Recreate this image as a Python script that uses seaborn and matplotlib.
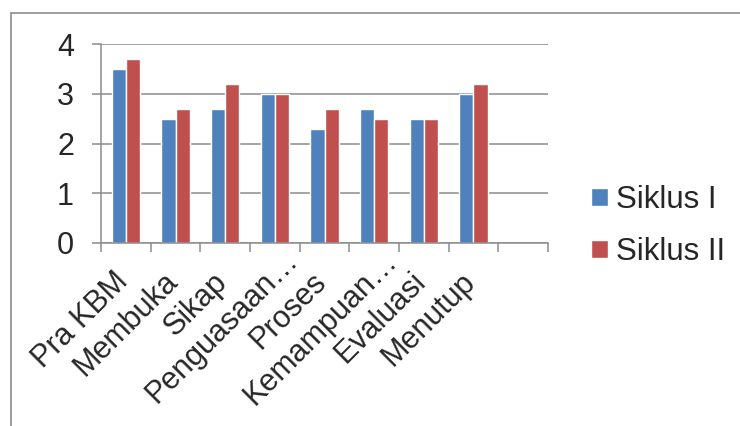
import pandas as pd
import numpy as np
import seaborn as sns
import matplotlib.pyplot as plt
from matplotlib.patches import Rectangle
import matplotlib.transforms as mtransforms

sns.set_style("white")
plt.rcParams['font.family'] = ['Liberation Sans', 'DejaVu Sans']

# Data
categories = ['Pra KBM', 'Membuka', 'Sikap', 'Penguasaan…', 'Proses',
              'Kemampuan…', 'Evaluasi', 'Menutup']
siklus_1 = [3.5, 2.5, 2.7, 3.0, 2.3, 2.7, 2.5, 3.0]
siklus_2 = [3.7, 2.7, 3.2, 3.0, 2.7, 2.5, 2.5, 3.2]
series_names = ['Siklus I', 'Siklus II']
y_ticks = [0, 1, 2, 3, 4]

df = pd.DataFrame({
    'kategori': categories * 2,
    'nilai': siklus_1 + siklus_2,
    'siklus': [series_names[0]] * len(categories) + [series_names[1]] * len(categories),
})

fig = plt.figure(figsize=(7.4, 4.26), dpi=100)
ax = fig.add_axes([101 / 740, 1 - 243 / 426, 447 / 740, 199 / 426])

palette = {'Siklus I': '#4F81BD', 'Siklus II': '#C0504D'}
sns.barplot(data=df, x='kategori', y='nilai', hue='siklus', order=categories,
            palette=palette, width=0.572, gap=0, saturation=1, ax=ax)

# Excel style: one empty category slot on the right
ax.set_xlim(-0.5, len(categories) + 0.5)
ax.set_ylim(0, 4)
ax.set_yticks(y_ticks)
ax.set_xlabel('')
ax.set_ylabel('')

grid_col = '#8C8C8C'
ax.yaxis.grid(True, color=grid_col, linewidth=1.1)
ax.set_axisbelow(True)
for side in ['top', 'right']:
    ax.spines[side].set_visible(False)
for side in ['left', 'bottom']:
    ax.spines[side].set_color(grid_col)
    ax.spines[side].set_linewidth(1.1)

ax.tick_params(axis='y', which='major', length=6.5, width=1.1, color=grid_col,
               labelsize=22, pad=13, left=True)
ax.set_xticks(np.arange(len(categories)))
ax.set_xticklabels(categories, rotation=45, ha='right', rotation_mode='anchor')
ax.tick_params(axis='x', which='major', length=0, labelsize=22, pad=17)
ax.set_xticks(np.arange(-0.5, len(categories) + 1), minor=True)
ax.tick_params(axis='x', which='minor', length=6.5, width=1.1, color=grid_col, bottom=True)

# Excel pushes the truncated labels further along their direction
for lab in ax.get_xticklabels():
    dx, dy = -13, 0
    if lab.get_text().endswith('…'):
        dx, dy = dx + 21, dy + 21
    shift = mtransforms.ScaledTranslation(dx / 100, dy / 100, fig.dpi_scale_trans)
    lab.set_transform(lab.get_transform() + shift)

ax.legend(loc='center left', bbox_to_anchor=(591 / 740, 1 - 226 / 426),
          bbox_transform=fig.transFigure, frameon=False, fontsize=22.5,
          handlelength=0.54, handleheight=0.54, handletextpad=0.26,
          labelspacing=0.7, borderpad=0, borderaxespad=0)

# outer chart border
fig.patches.append(Rectangle((11 / 740, -0.1), 1.2, 1 - 13 / 426 + 0.1,
                             transform=fig.transFigure, fill=False,
                             edgecolor='#8C8C8C', linewidth=1.2))

fig.savefig('out.png', dpi=100)
